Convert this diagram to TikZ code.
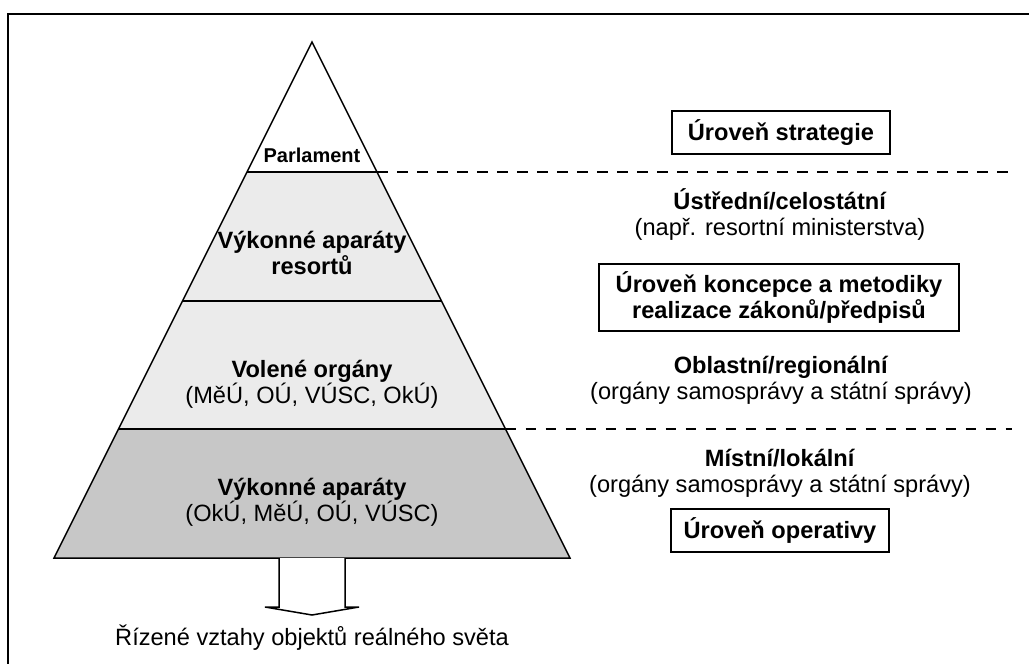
\documentclass[tikz,border=0pt]{standalone}
\usepackage{fontspec}
\setmainfont{Liberation Sans}
\definecolor{lightband}{gray}{0.92}
\definecolor{darkband}{gray}{0.78}
\newcommand{\lvlsize}{\fontsize{11.8}{13}\selectfont}
\tikzset{
  pyr/.style={line width=0.75pt, line join=miter},
  cut/.style={line width=0.8pt, dash pattern=on 5.25pt off 4.75pt},
  lvltxt/.style={align=center, inner sep=0pt, font=\lvlsize},
  lvlbox/.style={draw, line width=0.75pt, align=center, inner xsep=4pt,
    minimum width=109pt, minimum height=21.5pt, font=\bfseries\lvlsize}
}
\begin{document}
\begin{tikzpicture}[x=0.5pt,y=-0.5pt]
\useasboundingbox (0,0) rectangle (1029,664);
% frame
\draw[line width=0.9pt] (8,664) -- (8,14) -- (1029,14);
% pyramid
\coordinate[] (T) at (312,42);
\coordinate[] (A1) at (247,172);
\coordinate[] (B1) at (377,172);
\coordinate[] (A2) at (182.5,301);
\coordinate[] (B2) at (441.5,301);
\coordinate[] (A3) at (118.5,429);
\coordinate[] (B3) at (505.5,429);
\coordinate[] (A4) at (54,558);
\coordinate[] (B4) at (570,558);
\fill[lightband] (A1) -- (B1) -- (B3) -- (A3) -- cycle;
\fill[darkband] (A3) -- (B3) -- (B4) -- (A4) -- cycle;
\draw[pyr] (A4) -- (T) -- (B4) -- cycle;
\foreach \a/\b in {A1/B1,A2/B2,A3/B3}
	\draw[pyr] (\a) -- (\b);
% level borders
\coordinate[] (E1) at (1012,172);
\coordinate[] (E3) at (1012,429);
\draw[cut] (B1) -- (E1);
\draw[cut] (B3) -- (E3);
% arrow
\coordinate[] (S1) at (279,558);
\coordinate[] (S2) at (279,607);
\coordinate[] (H1) at (265,607);
\coordinate[] (H0) at (312,615);
\coordinate[] (H2) at (359,607);
\coordinate[] (S3) at (345,607);
\coordinate[] (S4) at (345,558);
\draw[pyr, fill=white] (S1) -- (S2) -- (H1) -- (H0) -- (H2) -- (S3) -- (S4);
% pyramid texts
\node[lvltxt, font=\bfseries\fontsize{10}{12}\selectfont] (parl) at (312,155) {Parlament};
\node[lvltxt, font=\bfseries\lvlsize] (resort) at (312,253) {Výkonné aparáty\\resortů};
\node[lvltxt] (volene) at (312,384) {\textbf{Volené orgány}\\(MěÚ, OÚ, VÚSC, OkÚ)};
\node[lvltxt] (vykon) at (312,502) {\textbf{Výkonné aparáty}\\(OkÚ, MěÚ, OÚ, VÚSC)};
\node[lvltxt] (rizene) at (312,638) {Řízené vztahy objektů reálného světa};
% right side
\node[lvlbox] (strat) at (781,132.5) {Úroveň strategie};
\node[lvltxt] (ustr) at (780,214) {\textbf{Ústřední/celostátní}\\(např. resortní ministerstva)};
\node[lvlbox, minimum width=180pt, minimum height=33.5pt] (konc) at (779,297.5) {Úroveň koncepce a metodiky\\realizace zákonů/předpisů};
\node[lvltxt] (obl) at (781,380) {\textbf{Oblastní/regionální}\\(orgány samosprávy a státní správy)};
\node[lvltxt] (mist) at (780,473.5) {\textbf{Místní/lokální}\\(orgány samosprávy a státní správy)};
\node[lvlbox] (oper) at (780,530.5) {Úroveň operativy};
\end{tikzpicture}
\end{document}
